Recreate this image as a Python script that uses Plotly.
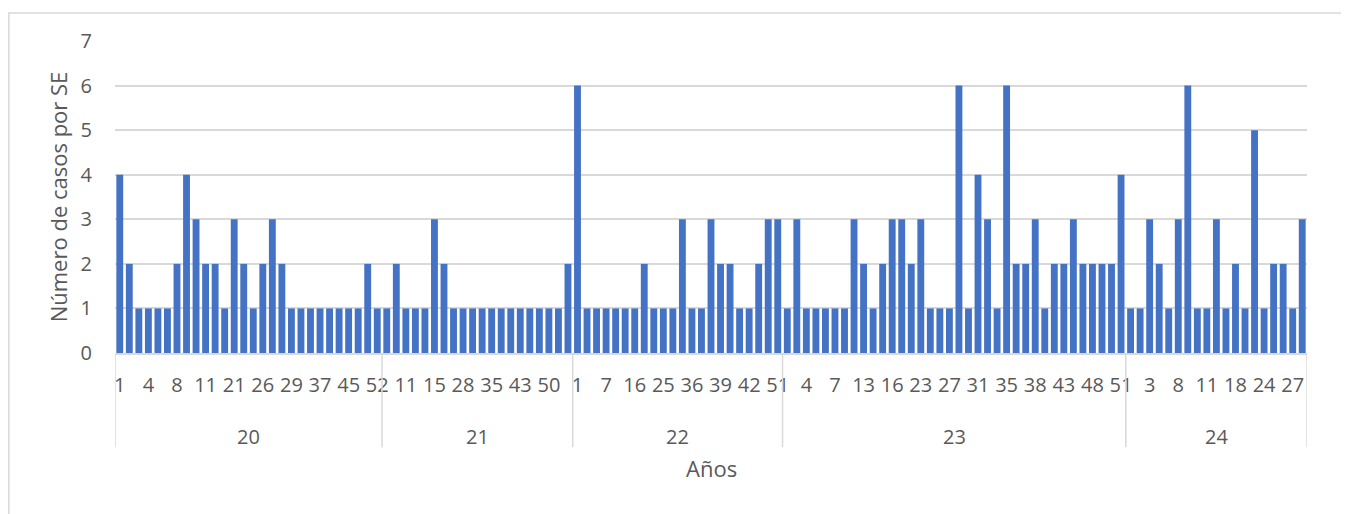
import plotly.graph_objects as go

# ---- data ----
years = ["20", "21", "22", "23", "24"]

weeks_20 = [1, 2, 3, 4, 6, 7, 8, 9, 10, 11, 12, 13, 21, 23, 24, 26, 27, 28, 29, 32, 34, 37, 40, 43, 45, 47, 49, 52]
cases_20 = [4, 2, 1, 1, 1, 1, 2, 4, 3, 2, 2, 1, 3, 2, 1, 2, 3, 2, 1, 1, 1, 1, 1, 1, 1, 1, 2, 1]

weeks_21 = [2, 8, 11, 12, 14, 15, 19, 24, 28, 30, 33, 35, 38, 41, 43, 46, 48, 50, 51, 52]
cases_21 = [1, 2, 1, 1, 1, 3, 2, 1, 1, 1, 1, 1, 1, 1, 1, 1, 1, 1, 1, 2]

weeks_22 = [1, 3, 5, 7, 10, 13, 16, 19, 22, 25, 29, 33, 36, 37, 38, 39, 40, 41, 42, 45, 48, 51]
cases_22 = [6, 1, 1, 1, 1, 1, 1, 2, 1, 1, 1, 3, 1, 1, 3, 2, 2, 1, 1, 2, 3, 3]

weeks_23 = [1, 2, 4, 5, 6, 7, 9, 11, 13, 14, 15, 16, 18, 20, 23, 24, 26, 27, 28, 30, 31, 32, 34, 35,
            36, 37, 38, 40, 41, 43, 45, 46, 48, 49, 50, 51]
cases_23 = [1, 3, 1, 1, 1, 1, 1, 3, 2, 1, 2, 3, 3, 2, 3, 1, 1, 1, 6, 1, 4, 3, 1, 6,
            2, 2, 3, 1, 2, 2, 3, 2, 2, 2, 2, 4]

weeks_24 = [1, 2, 3, 4, 6, 8, 9, 10, 11, 13, 16, 18, 20, 22, 24, 25, 26, 27, 28]
cases_24 = [1, 1, 3, 2, 1, 3, 6, 1, 1, 3, 1, 2, 1, 5, 1, 2, 2, 1, 3]

week_groups = [weeks_20, weeks_21, weeks_22, weeks_23, weeks_24]
case_groups = [cases_20, cases_21, cases_22, cases_23, cases_24]

# ---- assemble ----
week_labels, values = [], []
for w, c in zip(week_groups, case_groups):
    week_labels += [str(v) for v in w]
    values += c
xpos = list(range(len(values)))

BAR = "#4472C4"
TXT = "#595959"
GRID = "#D9D9D9"
FONT = "Open Sans"

W, H = 1341, 506
L, R, T, B = 107, 42, 33, 161
PW = W - L - R
PH = H - T - B

fig = go.Figure(go.Bar(x=xpos, y=values, marker_color=BAR, marker_line_width=0))

tickvals = xpos[::3]
ticktext = [week_labels[i] for i in tickvals]

shapes = []
annotations = []
start = 0
bounds = [-0.5]
for yr, c in zip(years, case_groups):
    end = start + len(c)
    bounds.append(end - 0.5)
    annotations.append(dict(x=(start + end - 1) / 2, y=-0.269, xref="x", yref="paper",
                            text=yr, showarrow=False, font=dict(family=FONT, size=20, color=TXT),
                            xanchor="center", yanchor="middle"))
    start = end
for b in bounds:
    shapes.append(dict(type="line", xref="x", yref="paper", x0=b, x1=b, y0=0, y1=-0.302,
                       line=dict(color=GRID, width=1.5)))

# chart-area border
shapes.append(dict(type="rect", xref="paper", yref="paper",
                   x0=(0.8 - L) / PW, x1=(1335 - L) / PW,
                   y0=-(B + 30) / PH, y1=(PH + T - 5) / PH,
                   line=dict(color=GRID, width=1.5), fillcolor="rgba(0,0,0,0)", layer="below"))

annotations.append(dict(x=0.5, y=-0.37, xref="paper", yref="paper", text="Años",
                        showarrow=False, font=dict(family=FONT, size=22, color=TXT),
                        xanchor="center", yanchor="middle"))

fig.update_layout(
    width=W, height=H,
    margin=dict(l=L, r=R, t=T, b=B),
    paper_bgcolor="white", plot_bgcolor="white",
    bargap=0.28,
    showlegend=False,
    font=dict(family=FONT, color=TXT),
    shapes=shapes,
    annotations=annotations,
    xaxis=dict(range=[-0.5, len(values) - 0.5], tickmode="array", tickvals=tickvals, ticktext=ticktext,
               tickangle=0, showgrid=False, zeroline=False, showline=True, linecolor=GRID, linewidth=1.5,
               ticks="outside", ticklen=13, tickcolor="rgba(0,0,0,0)",
               tickfont=dict(family=FONT, size=20, color=TXT)),
    yaxis=dict(range=[0, 7], dtick=1, showgrid=True, gridcolor=GRID, gridwidth=1.5, zeroline=False,
               showline=False, ticks="outside", ticklen=18, tickcolor="rgba(0,0,0,0)",
               tickfont=dict(family=FONT, size=20, color=TXT),
               title=dict(text="Número de casos por SE", font=dict(family=FONT, size=22, color=TXT),
                          standoff=6)),
)

fig.write_html("out.html")
